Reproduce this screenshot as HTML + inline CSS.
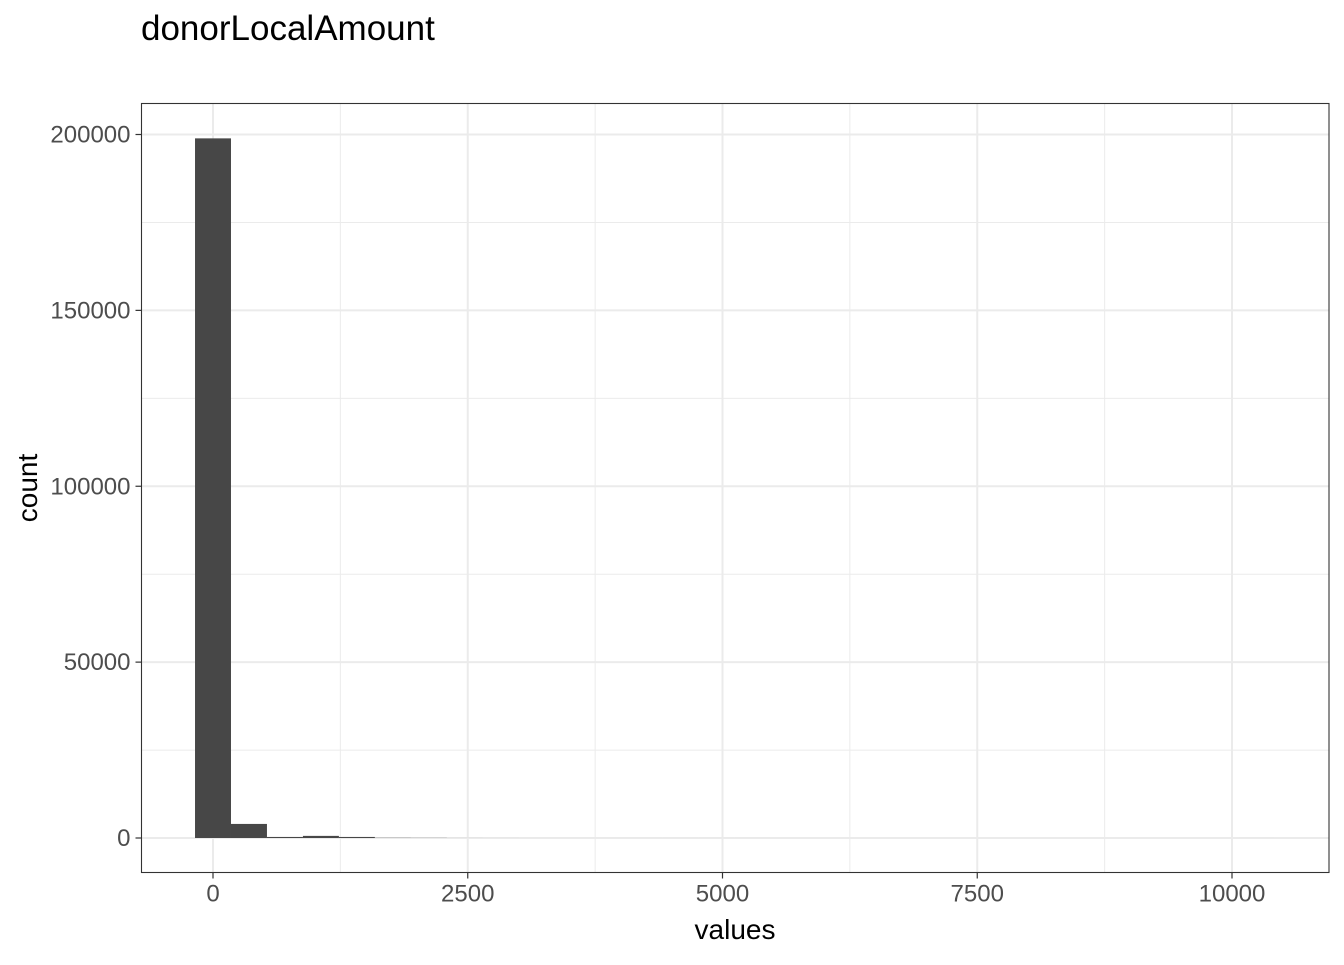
<!DOCTYPE html>
<html><head><meta charset="utf-8"><style>
body{margin:0;background:#fff;}
svg text{font-family:"Liberation Sans",Arial,sans-serif;}
</style></head><body>
<svg id="chart" width="1344" height="960">
<text x="141" y="40" font-size="35" fill="#000">donorLocalAmount</text>
<g id="grid"></g>
<g id="bars"></g>
<rect x="141.5" y="103.5" width="1187.5" height="769" fill="none" stroke="#333" stroke-width="1.1"/>
<g id="axes"></g>
<text x="735" y="939" font-size="28" text-anchor="middle" fill="#000">values</text>
<text transform="translate(37,488) rotate(-90)" font-size="28" text-anchor="middle" fill="#000">count</text>
</svg>
<script>
const binCenters=[0,353,706,1059,1412,1765,2118,2471,2824,3177,3530,3883,4236,4589,4942,5295,5648,6001,6354,6707,7060,7413,7766,8119,8472,8825,9178,9531,9884,10237];
const counts=[198900,4000,300,600,300,60,40,10,5,3,2,2,1,1,1,1,0,0,0,0,0,0,0,0,0,0,0,0,0,1];
const binWidth=353;
const xTicks=[0,2500,5000,7500,10000];
const yTicks=[0,50000,100000,150000,200000];
const L=141.5,R=1329,T=103.5,B=872.5;
const x=v=>213+v*(1232-213)/10000;
const y=v=>838-v*(838-134.5)/200000;
const ns="http://www.w3.org/2000/svg";
function mk(t,a,p){const e=document.createElementNS(ns,t);for(const k in a)e.setAttribute(k,a[k]);p.appendChild(e);return e;}
const g=document.getElementById('grid'),bg=document.getElementById('bars'),ax=document.getElementById('axes');
for(let i=0;i<xTicks.length-1;i++){const m=x((xTicks[i]+xTicks[i+1])/2);const l=mk('line',{x1:m,x2:m,y1:T,y2:B,stroke:'#ebebeb','stroke-width':1},g);

}
for(let i=0;i<yTicks.length-1;i++){const m=y((yTicks[i]+yTicks[i+1])/2);const l=mk('line',{x1:L,x2:R,y1:m,y2:m,stroke:'#ebebeb','stroke-width':1},g);

}
xTicks.forEach(v=>{const l=mk('line',{x1:x(v),x2:x(v),y1:T,y2:B,stroke:'#ebebeb','stroke-width':2},g);


const t=mk('line',{x1:x(v),x2:x(v),y1:B,y2:B+6,stroke:'#333','stroke-width':1.2},ax);


const tx=mk('text',{x:x(v),y:B+29,'font-size':24,'text-anchor':'middle',fill:'#4d4d4d'},ax);tx.textContent=v;

});
yTicks.forEach(v=>{const l=mk('line',{x1:L,x2:R,y1:y(v),y2:y(v),stroke:'#ebebeb','stroke-width':2},g);


const t=mk('line',{x1:L-6,x2:L,y1:y(v),y2:y(v),stroke:'#333','stroke-width':1.2},ax);


const tx=mk('text',{x:L-11,y:y(v)+8,'font-size':24,'text-anchor':'end',fill:'#4d4d4d'},ax);tx.textContent=v;

});
binCenters.forEach((c,i)=>{const x0=x(c-binWidth/2),x1=x(c+binWidth/2);const top=y(counts[i]);
const r=mk('rect',{x:x0,y:top,width:x1-x0,height:Math.max(0,y(0)-top),fill:'#474747'},bg);

});
</script>
</body></html>
